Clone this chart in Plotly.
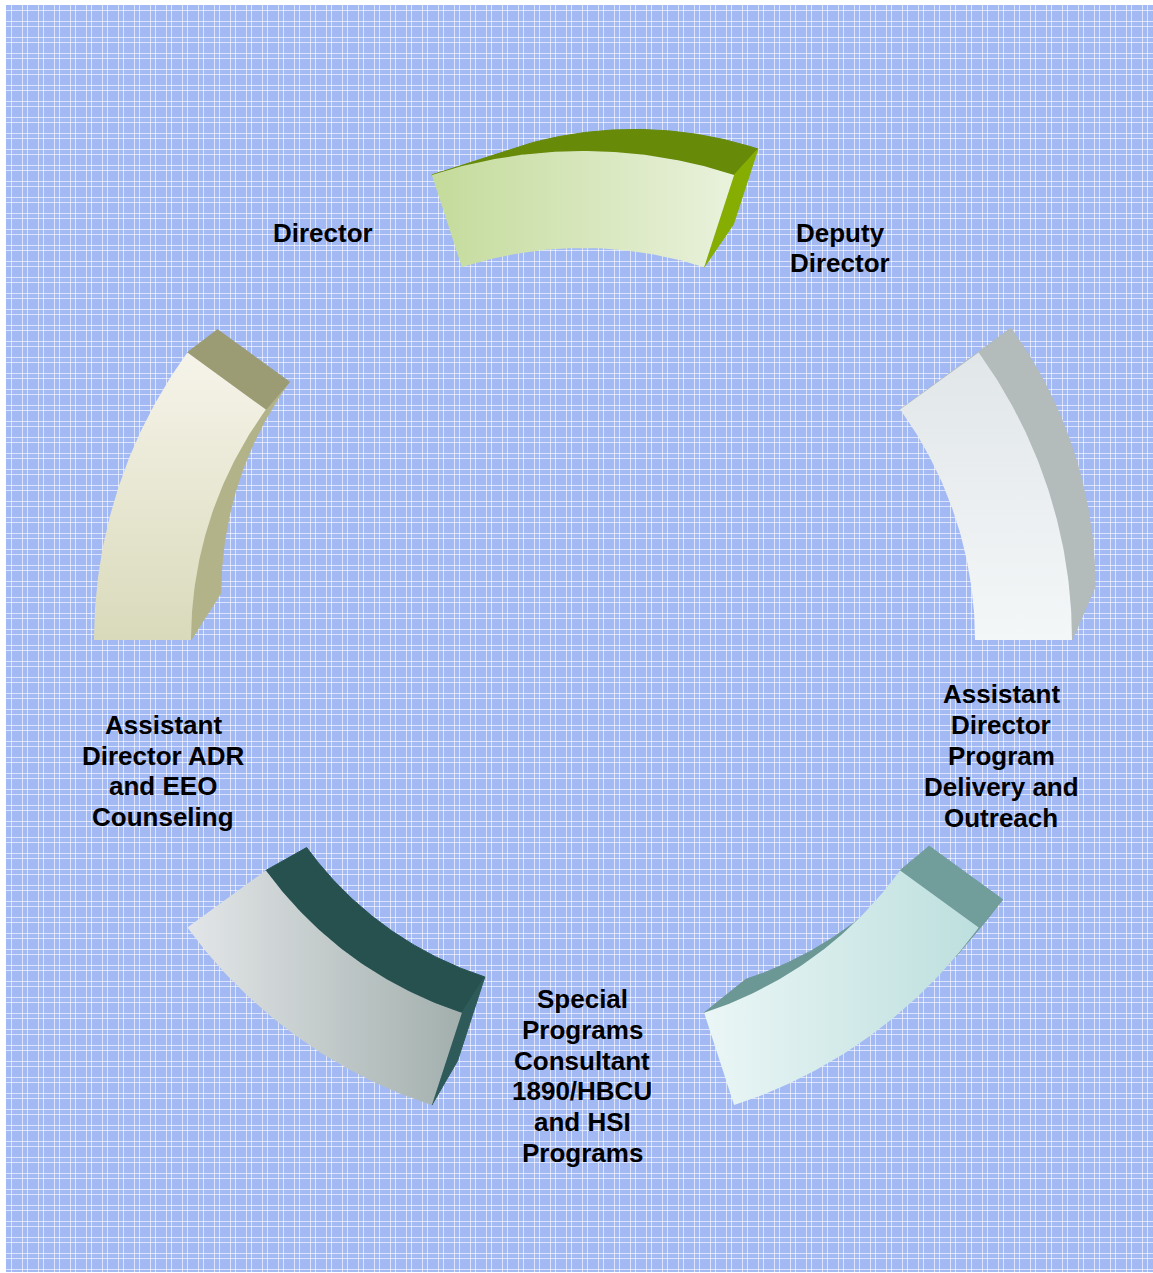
import numpy as np
import plotly.graph_objects as go

# ---------------- data ----------------
roles = [
    "Director",
    "Deputy Director",
    "Assistant Director Program Delivery and Outreach",
    "Special Programs Consultant 1890/HBCU and HSI Programs",
    "Assistant Director ADR and EEO Counseling",
]
label_lines = [
    ["Director"],
    ["Deputy", "Director"],
    ["Assistant", "Director", "Program", "Delivery and", "Outreach"],
    ["Special", "Programs", "Consultant", "1890/HBCU", "and HSI", "Programs"],
    ["Assistant", "Director ADR", "and EEO", "Counseling"],
]

# ---------------- layout / style ----------------
W, H = 1153, 1273
CX, CY = 583, 640
R_IN, R_OUT = 392, 489
n = len(roles)
step = 360.0 / n
half = step / 4.0  # each segment covers half of its slot

# per-segment perspective (vanishing point, depth factor)
VPS = [(864, 33), (1302, 110), (1347, 497), (714, 619), (550, 76)]
DEPTH = [0.183, 0.10, 0.065, 0.091, 0.083]

# per-segment colours: front gradient, outer face, inner face, cap colour
STYLE = [
    dict(grad="horizontal", c0="#c4db9b", c1="#eaf2dd", g0=432, g1=740,
         outer="#678a08", inner="#5f7f08", cap="#86ad02"),
    dict(grad="vertical", c0="#e1e6e8", c1="#f4f7f8", g0=353, g1=640,
         outer="#b3bbbb", inner="#a9b1b1", cap="#b3bbbb"),
    dict(grad="horizontal", c0="#ebf6f6", c1="#bcdfdd", g0=705, g1=979,
         outer="#6f9b98", inner="#6b9794", cap="#719d9a"),
    dict(grad="horizontal", c0="#e3e6e8", c1="#a2afad", g0=187, g1=462,
         outer="#2f5c5a", inner="#26514f", cap="#2e5b59"),
    dict(grad="vertical", c0="#f6f4ea", c1="#d9dabb", g0=353, g1=640,
         outer="#b3b38a", inner="#b3b38a", cap="#9c9c74"),
]

# label anchor (block centre) positions in pixels
LABEL_XY = [(323, 233), (840, 248), (1001, 756), (582, 1076), (163, 771)]
LINE_GAP = 30.8


def front_pt(r, th):
    return np.array([CX + r * np.cos(th), CY - r * np.sin(th)])


def back_pt(p, i):
    v = np.array(VPS[i], dtype=float)
    return p + DEPTH[i] * (v - p)


def signed_area(pts):
    xs = np.array([p[0] for p in pts])
    ys = -np.array([p[1] for p in pts])
    return 0.5 * np.sum(xs * np.roll(ys, -1) - np.roll(xs, -1) * ys)


def poly_trace(pts, color):
    xs = [p[0] for p in pts] + [pts[0][0]]
    ys = [p[1] for p in pts] + [pts[0][1]]
    return go.Scatter(x=xs, y=ys, mode="lines", fill="toself", fillcolor=color,
                      line=dict(color=color, width=1), hoverinfo="skip",
                      showlegend=False)


fig = go.Figure()

for i in range(n):
    centre = np.deg2rad(90 - step * i)
    ta, tb = centre - np.deg2rad(half), centre + np.deg2rad(half)
    th = np.linspace(ta, tb, 91)
    st = STYLE[i]

    # cylindrical side surfaces (outer / inner)
    for r, sign, col in [(R_OUT, -1, st["outer"]), (R_IN, 1, st["inner"])]:
        F = [front_pt(r, t) for t in th]
        B = [back_pt(p, i) for p in F]
        vis = []
        for j in range(len(th) - 1):
            a = signed_area([F[j], F[j + 1], B[j + 1], B[j]])
            vis.append(a * sign > 0)
        j = 0
        while j < len(vis):
            if vis[j]:
                k = j
                while k + 1 < len(vis) and vis[k + 1]:
                    k += 1
                pts = F[j:k + 2] + B[j:k + 2][::-1]
                fig.add_trace(poly_trace(pts, col))
                j = k + 1
            else:
                j += 1

    # end caps
    for t, sign in [(ta, -1), (tb, 1)]:
        fi, fo = front_pt(R_IN, t), front_pt(R_OUT, t)
        bo, bi = back_pt(fo, i), back_pt(fi, i)
        quad = [fi, fo, bo, bi]
        if signed_area(quad) * sign > 0:
            fig.add_trace(poly_trace(quad, st["cap"]))

    # front face with gradient
    outer = [front_pt(R_OUT, t) for t in th]
    inner = [front_pt(R_IN, t) for t in th[::-1]]
    pts = outer + inner + [outer[0]]
    fig.add_trace(go.Scatter(
        x=[p[0] for p in pts], y=[p[1] for p in pts], mode="lines",
        fill="toself",
        fillgradient=dict(type=st["grad"], start=st["g0"], stop=st["g1"],
                          colorscale=[[0, st["c0"]], [1, st["c1"]]]),
        line=dict(width=0), hoverinfo="skip", showlegend=False))

# labels
for lines, (lx, ly) in zip(label_lines, LABEL_XY):
    m = len(lines)
    for k, txt in enumerate(lines):
        y = ly + (k - (m - 1) / 2.0) * LINE_GAP
        fig.add_annotation(x=lx, y=y, text=txt, showarrow=False,
                           xanchor="center", yanchor="middle",
                           font=dict(family="Liberation Sans, Arial, sans-serif",
                                     size=26, color="#000000", weight="bold"))

grid_col = "rgba(255,255,255,0.62)"
fig.update_xaxes(range=[6, W], showticklabels=False, ticks="", zeroline=False,
                 showgrid=True, tick0=6, dtick=16, gridcolor=grid_col, gridwidth=1,
                 minor=dict(showgrid=True, tick0=11, dtick=16, gridcolor=grid_col,
                            gridwidth=1), fixedrange=True)
fig.update_yaxes(range=[H - 1, 5], showticklabels=False, ticks="", zeroline=False,
                 showgrid=True, tick0=5, dtick=16, gridcolor=grid_col, gridwidth=1,
                 minor=dict(showgrid=True, tick0=10, dtick=16, gridcolor=grid_col,
                            gridwidth=1), fixedrange=True)
fig.update_layout(width=W, height=H, margin=dict(l=6, r=0, t=5, b=1),
                  paper_bgcolor="#ffffff", plot_bgcolor="#a3b9f4",
                  showlegend=False)

fig.write_html("out.html", config={"displayModeBar": False},
               post_script="document.body.style.margin='0';document.body.style.overflow='hidden';")
